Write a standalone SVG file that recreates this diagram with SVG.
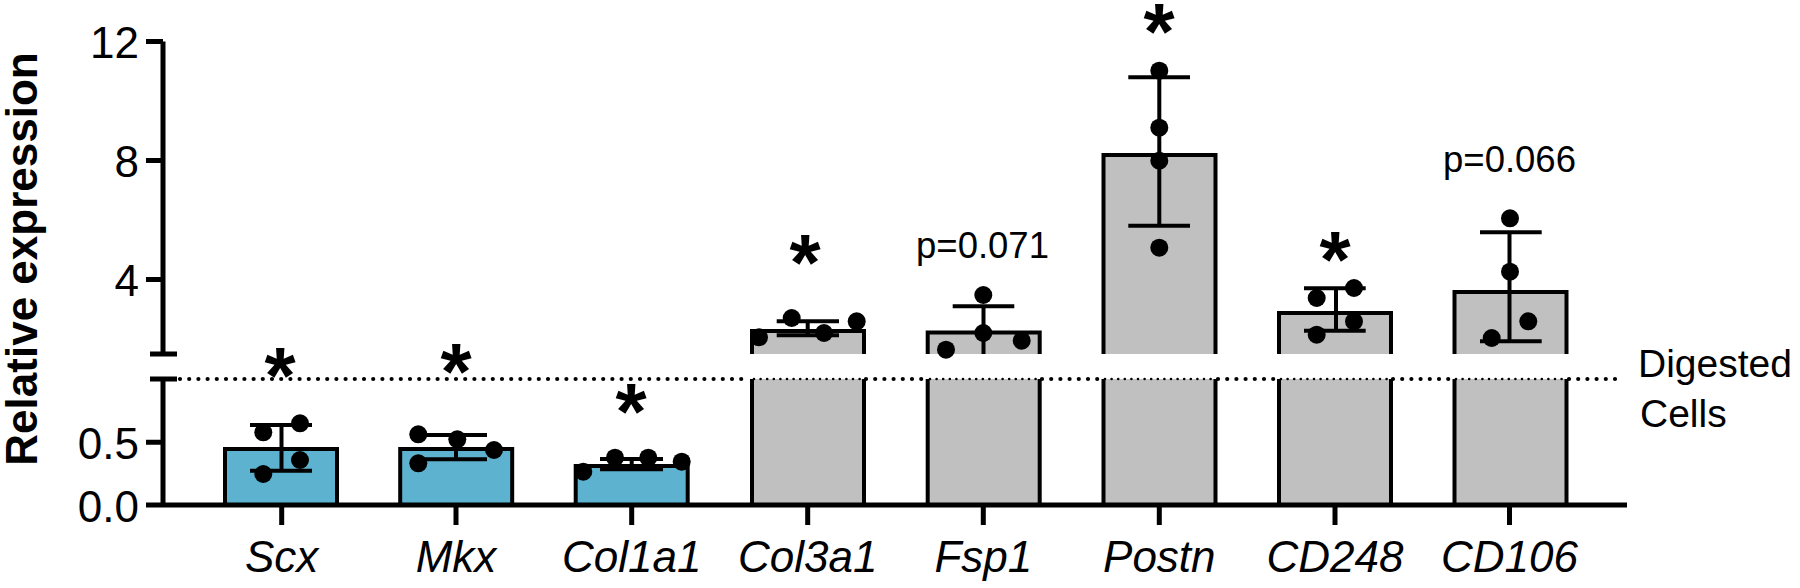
<svg xmlns="http://www.w3.org/2000/svg" width="1800" height="588" viewBox="0 0 1800 588">
<style>
.ax{stroke:#000;stroke-width:5;fill:none}
.bo{stroke:#000;stroke-width:4;fill:none}
.blue{fill:#5db3cf}
.grey{fill:#c0c0c0}
.eb{stroke:#000;stroke-width:4;fill:none}
.dot{fill:#000}
.tl{font-family:"Liberation Sans",Arial,sans-serif;font-size:44px;fill:#000;text-anchor:end}
.xl{font-family:"Liberation Sans",Arial,sans-serif;font-size:44px;font-style:italic;fill:#000;text-anchor:middle}
.st{font-family:"Liberation Sans",Arial,sans-serif;font-size:80px;font-weight:bold;fill:#000;text-anchor:middle}
.pv{font-family:"Liberation Sans",Arial,sans-serif;font-size:36.5px;fill:#000;text-anchor:middle}
.lg{font-family:"Liberation Sans",Arial,sans-serif;font-size:39px;fill:#000}
.yt{font-family:"Liberation Sans",Arial,sans-serif;font-size:44px;font-weight:bold;fill:#000;text-anchor:middle}
.dl{stroke:#000;stroke-width:4.2;stroke-dasharray:0 9.2;stroke-linecap:round;fill:none}
.df{stroke:#000;stroke-width:2.6;stroke-dasharray:0 6.6;stroke-linecap:round;fill:none}
</style>
<rect width="1800" height="588" fill="#fff"/>

<g id="bar-Scx">
<rect class="blue" x="225" y="449" width="112" height="56"/>
<path class="bo" d="M225,505V449H337V505"/>
<path class="eb" d="M250,425H312M250,470.7H312M281.5,425V470.7"/>
<circle class="dot" cx="263.3" cy="432.3" r="9"/><circle class="dot" cx="300" cy="423.3" r="9"/><circle class="dot" cx="300" cy="460" r="9"/><circle class="dot" cx="263.3" cy="474" r="9"/>
<text class="st" x="280" y="402.6">*</text>
</g>

<g id="bar-Mkx">
<rect class="blue" x="400.2" y="449" width="112" height="56"/>
<path class="bo" d="M400.2,505V449H512.2V505"/>
<path class="eb" d="M420,435H487M420,459.3H487M456,435V459.3"/>
<circle class="dot" cx="418.3" cy="434.3" r="9"/><circle class="dot" cx="457.3" cy="439.3" r="9"/><circle class="dot" cx="494" cy="450" r="9"/><circle class="dot" cx="418.3" cy="463.3" r="9"/>
<text class="st" x="456" y="398.6">*</text>
</g>

<g id="bar-Col1a1">
<rect class="blue" x="575.7" y="466" width="112" height="39"/>
<path class="bo" d="M575.7,505V466H687.7V505"/>
<path class="eb" d="M600,459H663M600,469.3H663M631.7,459V469.3"/>
<circle class="dot" cx="583.3" cy="471.7" r="9"/><circle class="dot" cx="615" cy="457.7" r="9"/><circle class="dot" cx="648.3" cy="457.7" r="9"/><circle class="dot" cx="681.7" cy="461.7" r="9"/>
<text class="st" x="631" y="438.6">*</text>
</g>

<g id="bar-Col3a1">
<rect class="grey" x="752" y="331" width="112" height="23"/>
<rect class="grey" x="752" y="379" width="112" height="126"/>
<path class="bo" d="M752,354V331H864V354M752,379V505M864,379V505"/>
<path class="eb" d="M776.7,321.3H839M776.7,335.3H839M807.7,321.3V335.3"/>
<circle class="dot" cx="759" cy="337.3" r="9"/><circle class="dot" cx="791.7" cy="318" r="9"/><circle class="dot" cx="824" cy="333" r="9"/><circle class="dot" cx="856.7" cy="321.3" r="9"/>
<text class="st" x="805" y="290">*</text>
</g>

<g id="bar-Fsp1">
<rect class="grey" x="927.7" y="332.5" width="112" height="21.5"/>
<rect class="grey" x="927.7" y="379" width="112" height="126"/>
<path class="bo" d="M927.7,354V332.5H1039.7V354M927.7,379V505M1039.7,379V505"/>
<path class="eb" d="M952.7,306.3H1014.3M983.5,306.3V354"/>
<circle class="dot" cx="983.3" cy="295" r="9"/><circle class="dot" cx="983.3" cy="333" r="9"/><circle class="dot" cx="1021.7" cy="340.7" r="9"/><circle class="dot" cx="946" cy="349.7" r="9"/>
<text class="pv" x="982.5" y="258.3">p=0.071</text>
</g>

<g id="bar-Postn">
<rect class="grey" x="1103.5" y="155" width="112" height="199"/>
<rect class="grey" x="1103.5" y="379" width="112" height="126"/>
<path class="bo" d="M1103.5,354V155H1215.5V354M1103.5,379V505M1215.5,379V505"/>
<path class="eb" d="M1128.3,77.3H1190M1128.3,225.7H1190M1159.3,77.3V225.7"/>
<circle class="dot" cx="1159.3" cy="70.7" r="9"/><circle class="dot" cx="1159.3" cy="127.7" r="9"/><circle class="dot" cx="1159.3" cy="160.7" r="9"/><circle class="dot" cx="1159.3" cy="247.7" r="9"/>
<text class="st" x="1159" y="58.5">*</text>
</g>

<g id="bar-CD248">
<rect class="grey" x="1279" y="313" width="112" height="41"/>
<rect class="grey" x="1279" y="379" width="112" height="126"/>
<path class="bo" d="M1279,354V313H1391V354M1279,379V505M1391,379V505"/>
<path class="eb" d="M1304,288.3H1365.7M1304,330.7H1365.7M1336,288.3V330.7"/>
<circle class="dot" cx="1316.7" cy="298" r="9"/><circle class="dot" cx="1354" cy="288" r="9"/><circle class="dot" cx="1354" cy="321.3" r="9"/><circle class="dot" cx="1316.7" cy="334.7" r="9"/>
<text class="st" x="1335" y="287">*</text>
</g>

<g id="bar-CD106">
<rect class="grey" x="1454.5" y="292" width="112" height="62"/>
<rect class="grey" x="1454.5" y="379" width="112" height="126"/>
<path class="bo" d="M1454.5,354V292H1566.5V354M1454.5,379V505M1566.5,379V505"/>
<path class="eb" d="M1480,232.3H1541.7M1480,341.3H1541.7M1509.5,232.3V341.3"/>
<circle class="dot" cx="1510" cy="218.3" r="9"/><circle class="dot" cx="1510" cy="271.7" r="9"/><circle class="dot" cx="1528.3" cy="321.3" r="9"/><circle class="dot" cx="1491.7" cy="338" r="9"/>
<text class="pv" x="1509.5" y="171.7">p=0.066</text>
</g>

<g id="threshold">
<path class="dl" d="M180,379H750M866,379H926M1042,379H1101M1218,379H1277M1393,379H1452M1569,379H1621"/>
<path class="df" d="M754,379H862M930,379H1038M1105,379H1214M1281,379H1389M1456,379H1565"/>
<text class="lg" x="1638" y="376.7">Digested</text>
<text class="lg" x="1640" y="426.7">Cells</text>
</g>

<g id="axes">
<path class="ax" d="M163,41.5V354M150,354H177M150,379H177M163,379V505M146,41.5H163M146,160.5H163M146,279.5H163M146,442.3H163M146,505H1627"/>
<path class="ax" d="M281.7,505V525M456,505V525M631.7,505V525M807.7,505V525M983.3,505V525M1159.3,505V525M1335,505V525M1509.5,505V525"/>
<text class="tl" x="139" y="58">12</text>
<text class="tl" x="139" y="177">8</text>
<text class="tl" x="139" y="296">4</text>
<text class="tl" x="139" y="458.5">0.5</text>
<text class="tl" x="139" y="521.5">0.0</text>
<text class="yt" transform="translate(37,259) rotate(-90)">Relative expression</text>
<text class="xl" x="281.7" y="572">Scx</text>
<text class="xl" x="456" y="572">Mkx</text>
<text class="xl" x="631.7" y="572">Col1a1</text>
<text class="xl" x="807.7" y="572">Col3a1</text>
<text class="xl" x="983.3" y="572">Fsp1</text>
<text class="xl" x="1159.3" y="572">Postn</text>
<text class="xl" x="1335" y="572">CD248</text>
<text class="xl" x="1509.5" y="572">CD106</text>
</g>
</svg>
